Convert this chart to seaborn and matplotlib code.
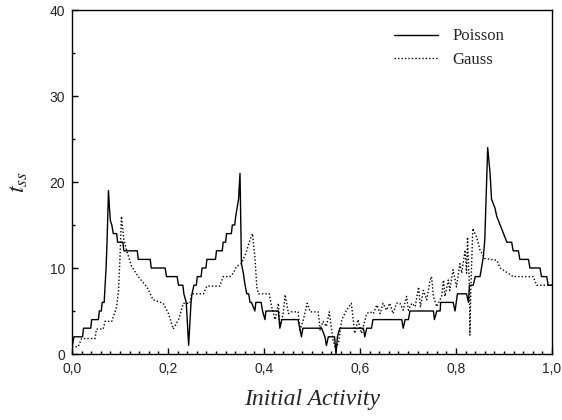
import numpy as np
import pandas as pd
import seaborn as sns
import matplotlib.pyplot as plt
from matplotlib.ticker import MultipleLocator, FuncFormatter

# Poisson curve (solid)
poisson_x = [0.000, 0.004, 0.022, 0.024, 0.039, 0.041, 0.055, 0.057, 0.061, 0.063,
             0.067, 0.069, 0.071, 0.073, 0.075, 0.076, 0.078, 0.080, 0.083, 0.086,
             0.093, 0.095, 0.106, 0.108, 0.136, 0.138, 0.163, 0.165, 0.194, 0.197,
             0.219, 0.222, 0.231, 0.233, 0.238, 0.243, 0.248, 0.250, 0.254, 0.259,
             0.261, 0.269, 0.271, 0.279, 0.281, 0.299, 0.301, 0.313, 0.315, 0.320,
             0.322, 0.332, 0.334, 0.339, 0.341, 0.344, 0.347, 0.350, 0.353, 0.357,
             0.360, 0.364, 0.368, 0.371, 0.374, 0.381, 0.383, 0.394, 0.397, 0.402,
             0.404, 0.430, 0.433, 0.437, 0.471, 0.478, 0.481, 0.520, 0.527, 0.530,
             0.534, 0.547, 0.550, 0.553, 0.558, 0.607, 0.610, 0.614, 0.624, 0.627,
             0.687, 0.690, 0.694, 0.701, 0.704, 0.753, 0.755, 0.760, 0.767, 0.768,
             0.794, 0.798, 0.803, 0.822, 0.826, 0.828, 0.836, 0.840, 0.850, 0.853,
             0.857, 0.860, 0.866, 0.871, 0.874, 0.881, 0.885, 0.892, 0.899, 0.906,
             0.916, 0.919, 0.930, 0.933, 0.951, 0.954, 0.975, 0.978, 0.989, 0.992,
             1.000]
poisson_y = [0.7, 2, 2, 3, 3, 4, 4, 5, 5, 6,
             6, 8, 10, 13, 17, 19, 17, 15.5, 15, 14,
             14, 13, 13, 12, 12, 11, 11, 10, 10, 9,
             9, 8, 8, 7, 6, 1, 6, 7, 8, 8,
             9, 9, 10, 10, 11, 11, 12, 12, 13, 13,
             14, 14, 15, 15, 16, 17, 18, 21, 10.5, 9.4,
             8.2, 7, 7, 6, 6, 5, 6, 6, 5, 4,
             5, 5, 3, 4, 4, 2, 3, 3, 2, 1,
             2, 2, 0, 2, 3, 3, 2, 3, 3, 4,
             4, 3, 4, 4, 5, 5, 4, 5, 5, 6,
             6, 5, 7, 7, 6, 8, 8, 9, 9, 10,
             11.3, 13.3, 24, 21, 18, 17, 16, 15, 14, 13,
             13, 12, 12, 11, 11, 10, 10, 9, 9, 8,
             8]

# Gauss curve (dotted)
gauss_x = [0.000, 0.013, 0.020, 0.048, 0.051, 0.065, 0.069, 0.083, 0.093, 0.097,
           0.100, 0.103, 0.108, 0.114, 0.124, 0.138, 0.156, 0.169, 0.190, 0.201,
           0.211, 0.222, 0.232, 0.246, 0.249, 0.274, 0.281, 0.308, 0.315, 0.329,
           0.336, 0.343, 0.353, 0.364, 0.371, 0.376, 0.381, 0.385, 0.388, 0.411,
           0.416, 0.423, 0.430, 0.433, 0.440, 0.444, 0.451, 0.457, 0.471, 0.475,
           0.482, 0.490, 0.496, 0.513, 0.517, 0.523, 0.530, 0.536, 0.541, 0.544,
           0.548, 0.555, 0.562, 0.572, 0.582, 0.589, 0.596, 0.603, 0.614, 0.621,
           0.628, 0.635, 0.642, 0.648, 0.655, 0.662, 0.669, 0.676, 0.683, 0.690,
           0.697, 0.701, 0.708, 0.715, 0.722, 0.726, 0.732, 0.739, 0.746, 0.749,
           0.753, 0.760, 0.770, 0.774, 0.777, 0.784, 0.787, 0.794, 0.801, 0.808,
           0.812, 0.819, 0.822, 0.824, 0.828, 0.829, 0.831, 0.835, 0.843, 0.850,
           0.860, 0.885, 0.892, 0.919, 0.961, 0.968, 1.000]
gauss_y = [0.85, 0.85, 1.8, 1.8, 2.9, 2.9, 3.8, 3.8, 5.5, 7.4,
           11.3, 16, 13.3, 12, 10.2, 9, 7.8, 6.3, 5.9, 4.7,
           2.9, 4, 5.9, 5.9, 7, 7, 7.9, 7.9, 9, 9,
           9.4, 10.2, 10.5, 12, 13.3, 14, 11.3, 7.8, 7, 7,
           5.5, 4, 5.9, 3.2, 4.7, 6.9, 4.7, 4.9, 4.9, 2.8,
           4, 5.9, 4.9, 4.9, 2.8, 3.8, 3.2, 4.9, 2.8, 1.6,
           0.85, 1.2, 4, 5.1, 5.9, 2.4, 4, 2.4, 4.7, 4.9,
           4.7, 5.7, 4.7, 5.9, 5.1, 5.9, 4.7, 5.9, 5.9, 5.1,
           6.7, 5.1, 5.9, 5.5, 7.8, 5.5, 7.4, 6.3, 8.6, 9,
           6.7, 5.5, 6.7, 8.6, 6.7, 8.6, 7.4, 9.8, 7.8, 10.5,
           9.4, 12.1, 9.4, 13.6, 7.8, 2.2, 7.8, 14.6, 13.6, 12.1,
           11.1, 10.9, 10, 9, 9, 8, 8]

df = pd.concat([
    pd.DataFrame({'x': poisson_x, 'y': poisson_y, 'dist': 'Poisson'}),
    pd.DataFrame({'x': gauss_x, 'y': gauss_y, 'dist': 'Gauss'}),
])

sns.set_style('ticks')
plt.rcParams['mathtext.fontset'] = 'stix'

fig = plt.figure(figsize=(5.62, 4.20), dpi=100)
ax = fig.add_axes([72 / 562, 66 / 420, 480 / 562, 344 / 420])

sns.lineplot(data=df[df['dist'] == 'Poisson'], x='x', y='y', sort=False, estimator=None,
             color='black', lw=1.0, label='Poisson', ax=ax)
sns.lineplot(data=df[df['dist'] == 'Gauss'], x='x', y='y', sort=False, estimator=None,
             color='black', lw=1.0, ls=(0, (1, 1.5)), label='Gauss', ax=ax)

ax.set_xlim(0, 1)
ax.set_ylim(0, 40)
ax.xaxis.set_major_locator(MultipleLocator(0.2))
ax.xaxis.set_minor_locator(MultipleLocator(0.02))
ax.yaxis.set_major_locator(MultipleLocator(10))
ax.yaxis.set_minor_locator(MultipleLocator(5))
ax.xaxis.set_major_formatter(FuncFormatter(lambda v, p: f'{v:.1f}'.replace('.', ',')))
ax.tick_params(which='both', direction='in', top=False, right=False, width=1, color='black')
ax.tick_params(which='major', length=4, labelsize=10)
ax.tick_params(which='minor', length=2)
ax.tick_params(axis='x', which='major', pad=6)
ax.tick_params(axis='y', which='major', pad=5)
for lab in ax.get_xticklabels() + ax.get_yticklabels():
    lab.set_family('Liberation Sans')
for s in ax.spines.values():
    s.set_linewidth(1.0)
    s.set_color('black')

ax.set_xlabel('Initial Activity', family='Liberation Serif', style='italic', fontsize=17, labelpad=9)
ax.set_ylabel('$t_{ss}$', fontsize=18, labelpad=14)

leg = ax.legend(loc='upper left', bbox_to_anchor=(0.64, 0.99), frameon=False,
                prop={'family': 'Liberation Serif', 'size': 12}, handlelength=2.6,
                handletextpad=0.9, labelspacing=0.45)

fig.savefig('out.png', dpi=100)
